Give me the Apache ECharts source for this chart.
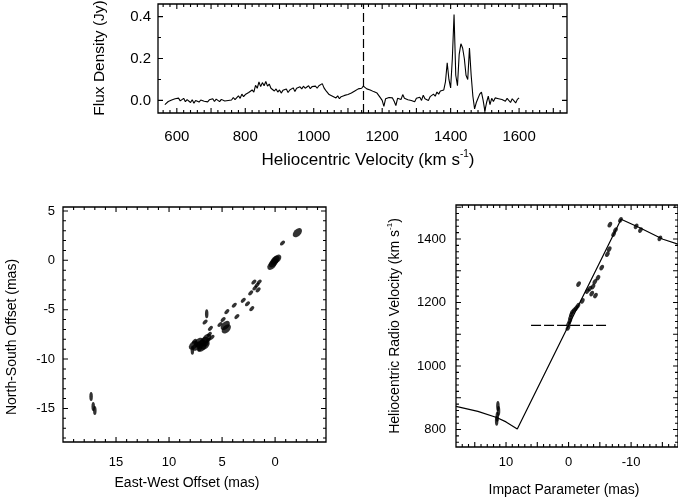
<!DOCTYPE html>
<html>
<head>
<meta charset="utf-8">
<script src="https://cdn.jsdelivr.net/npm/echarts@6/dist/echarts.min.js"></script>
<style>
  html, body { margin: 0; background: #fff; }
  #chart { width: 678px; height: 499px; }
</style>
</head>
<body>
<div id="chart"></div>
<script>
// --- spectrum (top panel): channels start at 565 km/s, 5 km/s apart
var specV0 = 565, specDv = 5;
var specFlux = [
  -0.02, -0.015, -0.005, -0.012, 0.002, -0.004, 0.008, 0.003, 0.011, -0.002,
  0.006, 0.01, -0.006, 0.004, -0.001, -0.01, 0.003, -0.013, 0.0, 0.007,
  -0.008, 0.002, 0.009, -0.004, 0.005, -0.007, 0.003, 0.0, 0.008, -0.005,
  0.006, 0.001, -0.006, 0.005, 0.01, -0.003, 0.006, 0.0, 0.009, 0.002,
  0.014, 0.004, 0.012, 0.022, 0.01, 0.03, 0.018, 0.028, 0.02, 0.038,
  0.03, 0.05, 0.04, 0.072, 0.058, 0.088, 0.066, 0.085, 0.07, 0.09,
  0.068, 0.078, 0.058, 0.065, 0.045, 0.055, 0.04, 0.05, 0.035, 0.048,
  0.04, 0.055, 0.038, 0.05, 0.045, 0.06, 0.042, 0.058, 0.05, 0.065,
  0.055, 0.068, 0.058, 0.063, 0.07, 0.056, 0.066, 0.06, 0.068, 0.058,
  0.07, 0.065, 0.08, 0.06, 0.048, 0.04, 0.028, 0.034, 0.02, 0.026,
  0.012, 0.022, 0.008, 0.018, 0.01, 0.024, 0.015, 0.028, 0.02, 0.035,
  0.03, 0.045, 0.04, 0.055, 0.062, 0.058, 0.068, 0.06, 0.055, 0.062,
  0.05, 0.056, 0.042, 0.048, 0.035, 0.028, 0.012, 0.0, -0.028, 0.008,
  0.0, 0.014, 0.005, 0.012, -0.004, -0.025, 0.01, 0.016, 0.004, 0.028,
  0.01, 0.018, 0.003, 0.012, 0.0, 0.008, -0.006, 0.01, 0.004, 0.015,
  0.0, 0.025, 0.008, 0.014, 0.0, 0.018, 0.012, 0.03, 0.02, 0.04,
  0.03, 0.045, 0.04, 0.05, 0.09, 0.18, 0.1, 0.06, 0.2, 0.41,
  0.12, 0.07, 0.22, 0.27, 0.25, 0.2, 0.12, 0.1, 0.25, 0.12,
  0.02, -0.04, -0.01, 0.01, 0.03, 0.04, 0.0, -0.05, -0.01, 0.02,
  -0.02, 0.01, -0.005, 0.012, 0.02, 0.008, 0.015, 0.004, 0.012, -0.004,
  0.01, 0.002, -0.01, 0.008, 0.0, -0.012, 0.005, 0.012
];
var specSysVel = 1145;
var specXLabels = [600, 800, 1000, 1200, 1400, 1600];
var specYLabels = [0, 0.2, 0.4];

// --- maser spots on the sky (bottom left): [east-west, north-south] mas
var skySpotsBig = [
  [-2.1, 2.8], [0.0, 0.0], [-0.15, 0.12], [0.15, -0.25], [0.3, -0.5],
  [4.7, -6.6], [4.6, -6.95], [7.0, -8.5], [6.7, -8.2], [7.4, -8.7],
  [6.45, -7.9], [6.9, -8.8], [7.7, -8.6], [7.2, -8.3], [6.6, -8.6]
];
var skySpotsSmall = [
  [-0.7, 1.75], [1.5, -2.2], [1.7, -2.5], [1.9, -2.8], [1.6, -3.0], [2.0, -2.2],
  [2.3, -3.3], [2.2, -4.9], [3.0, -4.05], [2.6, -4.4], [3.85, -4.55], [3.6, -5.7],
  [4.55, -5.2], [4.9, -6.0], [5.2, -6.5], [6.6, -6.25], [6.1, -6.9], [6.2, -7.5],
  [6.3, -8.1], [7.6, -8.2], [7.1, -9.0], [6.5, -8.5], [5.95, -7.8]
];
var skySpotsTall = [[6.45, -5.4], [7.8, -9.1], [17.35, -13.8], [17.15, -14.8], [17.0, -15.2]];
var skyXLabels = [15, 10, 5, 0];
var skyYLabels = [5, 0, -5, -10, -15];

// --- position-velocity (bottom right): [impact parameter mas, velocity km/s]
var pvSpots = [
  [0.1, 1120], [0.0, 1132], [-0.2, 1142], [-0.3, 1152], [-0.45, 1162], [-0.6, 1170],
  [-0.9, 1176], [-1.2, 1182], [-1.5, 1190], [-1.6, 1258], [-2.2, 1205], [-3.0, 1236],
  [-3.4, 1244], [-3.7, 1228], [-3.9, 1250], [-4.3, 1222], [-4.2, 1265], [-4.7, 1278],
  [-5.3, 1310], [-6.2, 1352], [-6.5, 1368], [-7.2, 1415], [-7.5, 1428], [-6.6, 1445],
  [-8.3, 1460], [-10.8, 1440], [-11.5, 1428], [-14.6, 1402]
];
var pvSpotsTall = [[11.5, 828], [11.4, 840], [11.2, 858], [11.3, 874]];
var rotationCurve = [
  [18, 873], [14.5, 857], [11.5, 838], [10, 824], [8.2, 802],
  [-8.4, 1462], [-11.3, 1436], [-15.1, 1399], [-17.5, 1384]
];
var pvSysVel = 1128;
var pvSysSpan = [6, -6.3];
var pvXLabels = [10, 0, -10];
var pvYLabels = [800, 1000, 1200, 1400];

function steps(a, b, d) {
  var out = [];
  for (var v = a; v <= b + 1e-9; v += d) out.push(Math.round(v * 1000) / 1000);
  return out;
}

var spectrum = specFlux.map(function (f, i) { return [specV0 + i * specDv, f]; });

var grids = [
  { left: 158, top: 4, width: 409, height: 109 },
  { left: 63, top: 207, width: 263, height: 235 },
  { left: 456, top: 205, width: 224, height: 242 }
];
// axis extents per panel: [min, max, inverse]
var xExt = [[545, 1740, false], [-4.8, 20, true], [-17.5, 18, true]];
var yExt = [[-0.06, 0.46, false], [-18.4, 5.4, false], [745, 1507, false]];
// tick positions per panel: x major/minor, y major/minor
var panelTicks = [
  [steps(600, 1700, 100), steps(560, 1740, 20), specYLabels, [0.1, 0.3]],
  [steps(0, 20, 5), steps(-4, 20, 1), steps(-15, 5, 5), steps(-18, 5, 1)],
  [steps(-15, 15, 5), steps(-17, 18, 1), steps(800, 1500, 100), steps(760, 1500, 20)]
];

function axis(gi, ext, labels, lab) {
  return {
    gridIndex: gi, type: 'value', min: ext[0], max: ext[1], inverse: ext[2], silent: true,
    splitLine: { show: false }, axisLine: { show: false, onZero: false }, axisTick: { show: false },
    axisLabel: Object.assign({
      customValues: labels, color: '#000', fontFamily: 'Liberation Sans',
      formatter: function (v) { return String(v); }
    }, lab)
  };
}

// inward ticks as one broken polyline per panel: each tick is a short
// segment from the frame edge inwards, segments separated by null
function tickSeries(gi) {
  var t = panelTicks[gi], xe = xExt[gi], ye = yExt[gi], g = grids[gi];
  var xPerPx = (xe[1] - xe[0]) / g.width, yPerPx = (ye[1] - ye[0]) / g.height;
  var xLo = Math.min(xe[0], xe[1]), xHi = Math.max(xe[0], xe[1]);
  // the value at the left/right frame edge and the sign that points inwards
  var xLeft = xe[2] ? xe[1] : xe[0], xRight = xe[2] ? xe[0] : xe[1];
  var inLeft = xe[2] ? -1 : 1;
  var data = [];
  [[t[0], 5], [t[1], 3]].forEach(function (p) {
    p[0].forEach(function (v) {
      if (v <= xLo || v >= xHi) return;
      var dy = p[1] * yPerPx;
      data.push([v, ye[0]], [v, ye[0] + dy], null, [v, ye[1]], [v, ye[1] - dy], null);
    });
  });
  [[t[2], 5], [t[3], 3]].forEach(function (p) {
    p[0].forEach(function (v) {
      if (v <= ye[0] || v >= ye[1]) return;
      var dx = p[1] * xPerPx * inLeft;
      data.push([xLeft, v], [xLeft + dx, v], null, [xRight, v], [xRight - dx, v], null);
    });
  });
  return {
    type: 'line', xAxisIndex: gi, yAxisIndex: gi, data: data, showSymbol: false,
    connectNulls: false, silent: true, clip: false, z: 4,
    lineStyle: { color: '#000', width: 1.1 }
  };
}

var titleFont = { fontFamily: 'Liberation Sans', fill: '#000' };
function title(x, y, text, size, rotate, rich) {
  return {
    type: 'text', x: x, y: y, rotation: rotate ? Math.PI / 2 : 0, silent: true,
    style: Object.assign({ text: text, fontSize: size, align: 'center', verticalAlign: 'middle',
                           rich: rich }, titleFont)
  };
}
function supRich(size) {
  return {
    n: { fontSize: size, lineHeight: size + 4, fontFamily: 'Liberation Sans', color: '#000' },
    s: { fontSize: Math.round(size * 0.6), lineHeight: size + 4, verticalAlign: 'top',
         fontFamily: 'Liberation Sans', color: '#000' }
  };
}

var frame = { show: true, borderColor: '#000', borderWidth: 1.3, backgroundColor: 'transparent' };

var chart = echarts.init(document.getElementById('chart'));
chart.setOption({
  animation: false,
  backgroundColor: '#fff',
  grid: grids.map(function (g) { return Object.assign({}, g, frame); }),
  xAxis: [
    axis(0, xExt[0], specXLabels, { fontSize: 15, margin: 16 }),
    axis(1, xExt[1], skyXLabels, { fontSize: 13, margin: 14 }),
    axis(2, xExt[2], pvXLabels, { fontSize: 13, margin: 9 })
  ],
  yAxis: [
    axis(0, yExt[0], specYLabels,
         { fontSize: 15, margin: 7, formatter: function (v) { return v.toFixed(1); } }),
    axis(1, yExt[1], skyYLabels, { fontSize: 13, margin: 8 }),
    axis(2, yExt[2], pvYLabels, { fontSize: 13, margin: 10 })
  ],
  series: [
    {
      type: 'line', xAxisIndex: 0, yAxisIndex: 0, data: spectrum, showSymbol: false,
      lineStyle: { color: '#000', width: 1.1 },
      markLine: {
        silent: true, symbol: 'none', label: { show: false },
        lineStyle: { color: '#000', width: 1.2, type: [9, 4] },
        data: [{ xAxis: specSysVel }]
      }
    },
    {
      type: 'scatter', xAxisIndex: 1, yAxisIndex: 1, data: skySpotsBig,
      symbol: 'circle', symbolSize: [11, 7], symbolRotate: 45, itemStyle: { color: '#000' }
    },
    {
      type: 'scatter', xAxisIndex: 1, yAxisIndex: 1, data: skySpotsSmall,
      symbol: 'circle', symbolSize: [6, 3.5], symbolRotate: 45, itemStyle: { color: '#000' }
    },
    {
      type: 'scatter', xAxisIndex: 1, yAxisIndex: 1, data: skySpotsTall,
      symbol: 'circle', symbolSize: [3.5, 9], itemStyle: { color: '#000' }
    },
    {
      type: 'line', xAxisIndex: 2, yAxisIndex: 2, data: rotationCurve, showSymbol: false,
      lineStyle: { color: '#000', width: 1.2 }
    },
    {
      type: 'line', xAxisIndex: 2, yAxisIndex: 2, showSymbol: false,
      data: pvSysSpan.map(function (b) { return [b, pvSysVel]; }),
      lineStyle: { color: '#000', width: 1.2, type: [10, 3] }
    },
    {
      type: 'scatter', xAxisIndex: 2, yAxisIndex: 2, data: pvSpots,
      symbol: 'circle', symbolSize: [6, 4], symbolRotate: 60, itemStyle: { color: '#000' }
    },
    {
      type: 'scatter', xAxisIndex: 2, yAxisIndex: 2, data: pvSpotsTall,
      symbol: 'circle', symbolSize: [3.5, 10], itemStyle: { color: '#000' }
    },
    tickSeries(0), tickSeries(1), tickSeries(2)
  ],
  graphic: [
    title(100, 58, 'Flux Density (Jy)', 15.5, true),
    title(368, 160, '{n|Heliocentric Velocity (km s}{s|-1}{n|)}', 17, false, supRich(17)),
    title(12, 337, 'North-South Offset (mas)', 14, true),
    title(187, 483, 'East-West Offset (mas)', 14, false),
    title(395, 326, '{n|Heliocentric Radio Velocity (km s}{s|-1}{n|)}', 14, true, supRich(14)),
    title(564, 490, 'Impact Parameter (mas)', 14, false)
  ]
});
</script>
</body>
</html>
